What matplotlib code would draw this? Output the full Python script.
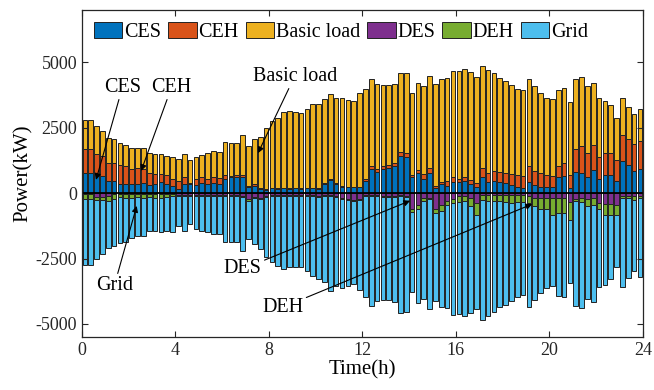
import matplotlib
matplotlib.use('Agg')
import matplotlib.pyplot as plt
import numpy as np

plt.rcParams['font.family'] = 'Liberation Serif'
plt.rcParams['mathtext.fontset'] = 'stix'

# 15-min resolution, 96 intervals over one day (kW)
t = np.arange(96) * 0.25 + 0.125

ces = [760, 760, 730, 660, 470, 470, 340, 340, 340, 340, 370, 310, 340, 410, 340, 280,
       150, 340, 340, 310, 380, 340, 380, 340, 560, 600, 600, 600, 250, 280, 150, 130,
       180, 150, 180, 150, 180, 150, 180, 180, 150, 340, 510, 340, 240, 220, 220, 220,
       470, 940, 810, 920, 980, 1040, 1420, 1400, 600, 760, 530, 790, 180, 340, 280, 430,
       410, 470, 340, 250, 600, 430, 470, 430, 380, 310, 250, 180, 430, 310, 240, 220,
       220, 600, 640, 180, 810, 760, 600, 890, 530, 690, 690, 450, 1230, 1070, 850, 940]
ceh = [920, 920, 760, 760, 700, 700, 730, 700, 600, 640, 570, 480, 380, 320, 340, 250,
       320, 290, 60, 250, 220, 190, 220, 250, 130, 60, 90, 100, 30, 60, 30, 30,
       30, 30, 30, 30, 30, 30, 30, 30, 30, 30, 30, 30, 30, 30, 30, 30,
       90, 80, 100, 100, 90, 130, 170, 150, 100, 130, 190, 170, 100, 90, 190, 170,
       130, 130, 170, 130, 380, 360, 380, 380, 410, 420, 430, 460, 610, 520, 550, 480,
       450, 450, 530, 520, 890, 1040, 950, 950, 860, 830, 840, 830, 990, 1020, 1040, 1060]
load = [1120, 1120, 1060, 950, 950, 890, 860, 800, 780, 740, 780, 730, 760, 760, 760, 860,
        830, 850, 860, 840, 850, 990, 1000, 1000, 1270, 1250, 1220, 1540, 1530, 1720, 1960, 2350,
        2560, 2710, 2900, 2960, 2900, 2900, 3000, 3190, 3220, 3220, 3270, 3280, 3380, 3320, 3280, 3570,
        3430, 3330, 3270, 3120, 3080, 3010, 3010, 3030, 3140, 3330, 3370, 3520, 3880, 3940, 3940, 4070,
        4130, 4130, 4120, 4070, 3900, 3920, 3730, 3600, 3500, 3400, 3320, 3310, 3310, 3270, 3030, 2950,
        2930, 2900, 2840, 2800, 2670, 2650, 2540, 2380, 2240, 2010, 1830, 1580, 1410, 1210, 1150, 1230]
des = [40, 40, 130, 130, 100, 50, 40, 40, 40, 50, 40, 40, 40, 40, 40, 40,
       60, 60, 60, 60, 60, 60, 60, 60, 60, 60, 60, 100, 230, 130, 170, 100,
       60, 60, 60, 60, 60, 60, 60, 60, 100, 60, 60, 100, 170, 230, 250, 230,
       60, 60, 60, 100, 100, 100, 60, 100, 610, 460, 200, 170, 590, 460, 290, 230,
       100, 100, 200, 380, 60, 60, 60, 60, 60, 60, 60, 60, 100, 170, 170, 170,
       170, 170, 190, 330, 230, 190, 230, 170, 360, 420, 430, 460, 100, 100, 100, 100]
deh = [190, 190, 130, 130, 190, 180, 90, 130, 130, 110, 130, 100, 130, 130, 100, 60,
       50, 50, 50, 50, 50, 50, 50, 50, 50, 50, 50, 30, 60, 40, 40, 40,
       40, 40, 40, 40, 40, 40, 40, 40, 40, 40, 40, 40, 40, 40, 40, 40,
       40, 40, 40, 40, 40, 40, 40, 40, 100, 130, 90, 60, 180, 220, 170, 150,
       230, 190, 280, 450, 190, 230, 230, 230, 290, 320, 270, 290, 280, 320, 420, 420,
       670, 600, 570, 700, 60, 130, 280, 290, 250, 420, 390, 380, 100, 90, 150, 100]
grid = [2520, 2520, 2260, 2070, 1810, 1780, 1760, 1690, 1530, 1460, 1460, 1300, 1270, 1310, 1300, 1370,
        1130, 1320, 1070, 1260, 1320, 1390, 1450, 1450, 1770, 1770, 1770, 2070, 1460, 1780, 1910, 2320,
        2540, 2670, 2800, 2730, 2730, 2730, 2860, 3080, 3140, 3310, 3630, 3420, 3400, 3290, 3180, 3420,
        3880, 4220, 4030, 3940, 3940, 4010, 4480, 4410, 3080, 3610, 3750, 4200, 3350, 3690, 3940, 4270,
        4310, 4410, 4100, 3600, 4620, 4390, 4260, 4070, 3920, 3750, 3650, 3560, 3960, 3590, 3210, 3050,
        2720, 3150, 3220, 2400, 4030, 4080, 3540, 3710, 2990, 2670, 2480, 2000, 3400, 3070, 2710, 3010]

ces = np.array(ces); ceh = np.array(ceh); load = np.array(load)
des = np.array(des); deh = np.array(deh); grid = np.array(grid)

colors = ['#0072BD', '#D95319', '#EDB120', '#7E2F8E', '#77AC30', '#4DBEEE']
names = ['CES', 'CEH', 'Basic load', 'DES', 'DEH', 'Grid']

fig = plt.figure(figsize=(6.54, 3.9), dpi=100)
ax = fig.add_axes([0.1254, 0.136, 0.8576, 0.838])

w = 0.2
kw = dict(width=w, edgecolor='#222222', linewidth=0.7)
ax.bar(t, ces, color=colors[0], label=names[0], **kw)
ax.bar(t, ceh, bottom=ces, color=colors[1], label=names[1], **kw)
ax.bar(t, load, bottom=ces + ceh, color=colors[2], label=names[2], **kw)
ax.bar(t, -des, color=colors[3], label=names[3], **kw)
ax.bar(t, -deh, bottom=-des, color=colors[4], label=names[4], **kw)
ax.bar(t, -grid, bottom=-(des + deh), color=colors[5], label=names[5], **kw)
ax.axhline(0, color='black', linewidth=1.3)

ax.set_xlim(0, 24)
ax.set_ylim(-5500, 7000)
ax.set_xticks(np.arange(0, 25, 4))
ax.set_yticks([-5000, -2500, 0, 2500, 5000])
ax.set_yticklabels(['-5000', '-2500', '0', '2500', '5000'])
ax.tick_params(direction='in', top=True, right=True, labelsize=13, length=4,
               color='#262626', labelcolor='#262626')
for s in ax.spines.values():
    s.set_linewidth(0.9)
    s.set_color('#262626')

ax.set_xlabel('Time(h)', fontsize=15, labelpad=1)
ax.set_ylabel('Power(kW)', fontsize=15, labelpad=2)

ax.legend(loc='upper left', bbox_to_anchor=(0.0, 1.0), ncol=6, frameon=False,
          fontsize=14.5, handlelength=1.4, handleheight=0.8, handletextpad=0.1,
          columnspacing=0.35, borderpad=0.4, borderaxespad=0.2)

arr = dict(arrowstyle='-|>', color='black', lw=0.8, mutation_scale=9, shrinkA=0, shrinkB=0)
ax.annotate('CES', xy=(0.6, 510), xytext=(1.73, 4050), fontsize=14.5,
            ha='center', va='center', arrowprops=arr)
ax.annotate('CEH', xy=(2.53, 850), xytext=(3.83, 4050), fontsize=14.5,
            ha='center', va='center', arrowprops=arr)
ax.annotate('Basic load', xy=(7.53, 1530), xytext=(9.1, 4470), fontsize=14.5,
            ha='center', va='center', arrowprops=arr)
ax.annotate('Grid', xy=(2.34, -490), xytext=(1.38, -3540), fontsize=14.5,
            ha='center', va='center', arrowprops=arr)
ax.annotate('DES', xy=(14.04, -290), xytext=(6.88, -2900), fontsize=14.5,
            ha='center', va='center', arrowprops=arr)
ax.annotate('DEH', xy=(19.26, -420), xytext=(8.6, -4360), fontsize=14.5,
            ha='center', va='center', arrowprops=arr)

fig.savefig('out.png', dpi=100)
